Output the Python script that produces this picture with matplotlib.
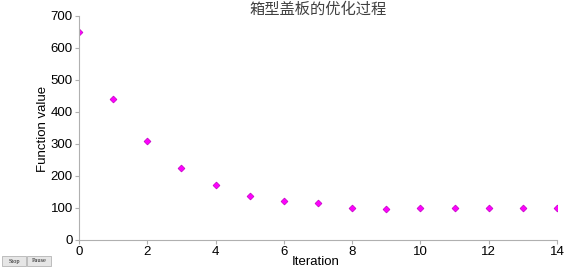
import matplotlib
matplotlib.use("Agg")
from matplotlib import pyplot as plt
from matplotlib.patches import Rectangle

iterations = [0, 1, 2, 3, 4, 5, 6, 7, 8, 9, 10, 11, 12, 13, 14]
fvals = [650, 440, 310, 225, 172, 137, 121, 115, 99, 98, 101, 101, 101, 101, 101]
xticks = [0, 2, 4, 6, 8, 10, 12, 14]
yticks = [0, 100, 200, 300, 400, 500, 600, 700]

plt.rcParams['font.family'] = ['Liberation Sans', 'DejaVu Sans']

W, H = 566, 269
fig = plt.figure(dpi=100, figsize=(5.66, 2.69))
ax = fig.add_axes([79 / W, 1 - 240 / H, 478 / W, 224 / H])
ax.plot(iterations, fvals, linestyle='none', marker='D', markersize=3.5,
        markerfacecolor='#ff00ff', markeredgecolor='#c000c0', markeredgewidth=0.5)
ax.set_xlim(0, 14)
ax.set_ylim(0, 700)
ax.set_xticks(xticks)
ax.set_yticks(yticks)
for s in ['top', 'right']:
    ax.spines[s].set_visible(False)
for s in ['left', 'bottom']:
    ax.spines[s].set_color('#b0b0b0')
    ax.spines[s].set_linewidth(0.8)
ax.tick_params(axis='both', labelsize=9.5, length=3, color='#b0b0b0', pad=1.5)
fig.text(43 / W, 1 - 129 / H, 'Function value', fontsize=9.5, rotation=90,
         ha='center', va='center')
fig.text(316 / W, 1 - 262 / H, 'Iteration', fontsize=9.5, ha='center', va='center')
fig.text(318 / W, 1 - 9 / H, '箱型盖板的优化过程', fontsize=11, color='#404040',
         ha='center', va='center', family=['Noto Sans CJK SC', 'DejaVu Sans'])

# Stop / Pause buttons
for x0, label in [(2, 'Stop'), (27, 'Pause')]:
    fig.patches.append(Rectangle((x0 / W, 1 - 266 / H), 24 / W, 10 / H, transform=fig.transFigure,
                                 facecolor='#e6e6e6', edgecolor='#b4b4b4', linewidth=0.6))
    fig.text((x0 + 12) / W, 1 - 261 / H, label, fontsize=4.5, family='Liberation Serif',
             ha='center', va='center', color='#202020')

plt.savefig('out.png', dpi=100)
